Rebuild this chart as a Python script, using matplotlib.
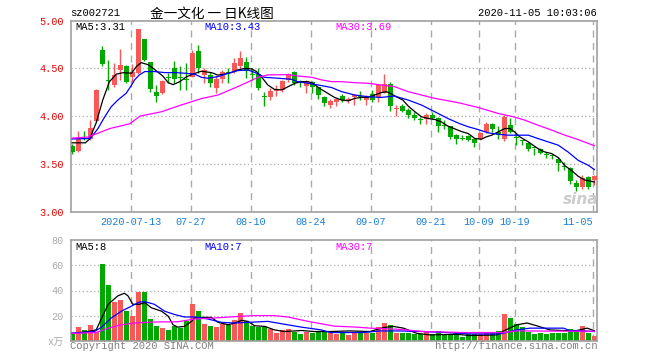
import matplotlib
matplotlib.use('Agg')
import matplotlib.pyplot as plt
import numpy as np

# daily K-line data (price in yuan, volume in 万手)
opens = [3.684, 3.635, 3.775, 3.765, 3.95, 4.69, 4.38, 4.33, 4.485, 4.525, 4.41, 4.45, 4.81, 4.565, 4.255, 4.245, 4.41, 4.50, 4.40, 4.385, 4.415, 4.685,
         4.43, 4.43, 4.29, 4.385, 4.46, 4.475, 4.53, 4.57, 4.435, 4.44, 4.205, 4.195, 4.265, 4.275, 4.38, 4.465, 4.365, 4.315, 4.36, 4.30, 4.195, 4.115,
         4.15, 4.21, 4.16, 4.205, 4.205, 4.17, 4.23, 4.195, 4.245, 4.335, 4.075, 4.105, 4.06, 4.01, 3.96, 3.965, 4.015, 3.985, 3.905, 3.895, 3.80,
         3.765, 3.79, 3.755, 3.755, 3.835, 3.915, 3.835, 3.755, 3.91, 3.78, 3.745, 3.72, 3.67, 3.66, 3.60, 3.59, 3.555, 3.47, 3.455, 3.30, 3.255, 3.36, 3.325]
closes = [3.625, 3.775, 3.76, 3.88, 4.27, 4.545, 4.37, 4.43, 4.535, 4.355, 4.465, 4.915, 4.59, 4.285, 4.21, 4.37, 4.40, 4.39, 4.395, 4.38, 4.665, 4.50,
          4.485, 4.345, 4.39, 4.46, 4.455, 4.555, 4.605, 4.475, 4.43, 4.29, 4.20, 4.265, 4.285, 4.37, 4.44, 4.35, 4.36, 4.36, 4.31, 4.22, 4.135, 4.16,
          4.18, 4.17, 4.18, 4.21, 4.20, 4.21, 4.17, 4.325, 4.335, 4.105, 4.08, 4.055, 4.01, 3.975, 3.955, 4.015, 3.985, 3.895, 3.90, 3.78, 3.765,
          3.76, 3.745, 3.72, 3.825, 3.915, 3.86, 3.80, 3.99, 3.835, 3.775, 3.74, 3.65, 3.665, 3.615, 3.595, 3.585, 3.51, 3.465, 3.315, 3.255, 3.35, 3.255, 3.37]
highs = [3.705, 3.84, 3.84, 3.96, 4.28, 4.73, 4.59, 4.56, 4.70, 4.54, 4.55, 4.915, 4.81, 4.57, 4.325, 4.38, 4.45, 4.58, 4.52, 4.555, 4.69, 4.745,
         4.50, 4.465, 4.43, 4.485, 4.50, 4.61, 4.685, 4.615, 4.50, 4.50, 4.255, 4.29, 4.325, 4.38, 4.455, 4.475, 4.38, 4.375, 4.37, 4.31, 4.21, 4.175,
         4.18, 4.23, 4.20, 4.23, 4.26, 4.22, 4.275, 4.335, 4.44, 4.36, 4.115, 4.125, 4.09, 4.045, 3.99, 4.03, 4.045, 3.995, 3.96, 3.90, 3.81,
         3.80, 3.80, 3.765, 3.835, 3.94, 3.925, 3.895, 4.01, 3.975, 3.82, 3.75, 3.73, 3.67, 3.67, 3.625, 3.605, 3.57, 3.52, 3.465, 3.335, 3.38, 3.37, 3.38]
lows = [3.607, 3.625, 3.75, 3.745, 3.94, 4.52, 4.27, 4.31, 4.38, 4.345, 4.36, 4.44, 4.58, 4.255, 4.15, 4.23, 4.345, 4.345, 4.275, 4.275, 4.41, 4.45,
        4.345, 4.31, 4.245, 4.345, 4.345, 4.45, 4.49, 4.40, 4.38, 4.275, 4.11, 4.17, 4.21, 4.255, 4.36, 4.325, 4.31, 4.245, 4.245, 4.18, 4.105, 4.09,
        4.105, 4.15, 4.14, 4.115, 4.17, 4.115, 4.15, 4.15, 4.24, 4.055, 4.00, 4.045, 3.975, 3.96, 3.915, 3.915, 3.965, 3.835, 3.86, 3.755, 3.71,
        3.745, 3.74, 3.68, 3.745, 3.82, 3.835, 3.765, 3.74, 3.82, 3.695, 3.695, 3.635, 3.59, 3.60, 3.56, 3.555, 3.425, 3.44, 3.29, 3.215, 3.24, 3.24, 3.28]
volumes = [5.1, 10.8, 8.6, 12.2, 7.3, 61.4, 44.6, 30.8, 32.4, 23.5, 19.5, 38.9, 38.9, 17.3, 11.4, 10.5, 8.6, 11.9, 10.0, 15.4, 29.5, 23.5,
           13.2, 11.4, 10.8, 13.5, 12.7, 16.8, 22.2, 15.9, 11.4, 10.8, 10.8, 9.2, 5.9, 8.6, 9.2, 7.3, 5.4, 7.3, 5.9, 7.3, 8.1, 5.9,
           5.1, 6.5, 4.3, 7.3, 7.3, 5.9, 5.9, 10.8, 13.8, 12.2, 6.5, 5.9, 5.9, 5.1, 5.1, 7.3, 5.4, 7.8, 5.4, 5.4, 5.9,
           3.2, 5.1, 5.4, 5.1, 7.3, 6.8, 8.1, 21.4, 17.8, 13.5, 10.8, 7.3, 5.4, 5.9, 5.4, 5.9, 6.5, 5.9, 9.2, 7.8, 11.4, 5.9, 4.1]

# moving average lines (x = trading-day index)
ma5_x = [0, 2.2, 2.9, 4.0, 5.1, 6.2, 7.35, 8.5, 9.9, 10.7, 11.5, 12.6, 13.5, 14.3, 15.1, 16.0, 16.8, 17.9, 19.0, 20.1, 21.5, 23.2, 24.3, 25.4,
         26.5, 27.6, 28.8, 29.9, 30.7, 31.5, 32.6, 33.7, 34.9, 36, 37.1, 38.2, 39.3, 40.1, 41.2, 42.4, 43.7, 44.9, 46, 47.1, 48.2, 49.3,
         50.4, 51.5, 52.4, 53.2, 54, 55.1, 56, 57.1, 58.2, 59.3, 60.4, 61.5, 62.6, 64, 65, 66, 67.1, 68.2, 69, 69.9, 71, 72.1, 72.9,
         73.7, 74.6, 76, 77.6, 78.7, 79.9, 81, 82.1, 83.2, 84.3, 85.4, 86.2, 87]
ma5_y = [3.72, 3.72, 3.76, 3.93, 4.17, 4.36, 4.44, 4.455, 4.45, 4.52, 4.56, 4.54, 4.50, 4.46, 4.42, 4.35, 4.33, 4.36, 4.41, 4.44, 4.47, 4.456, 4.43, 4.44,
         4.456, 4.484, 4.50, 4.495, 4.467, 4.414, 4.326, 4.28, 4.274, 4.309, 4.344, 4.361, 4.361, 4.344, 4.291, 4.246, 4.196, 4.168, 4.161, 4.186, 4.196, 4.196,
         4.221, 4.246, 4.256, 4.232, 4.203, 4.168, 4.105, 4.046, 3.993, 3.975, 3.965, 3.94, 3.895, 3.86, 3.835, 3.817, 3.765, 3.758, 3.782, 3.80, 3.835, 3.87, 3.87,
         3.835, 3.782, 3.73, 3.66, 3.625, 3.607, 3.565, 3.48, 3.43, 3.37, 3.33, 3.32, 3.31]
ma10_x = [0, 3.0, 4.3, 5.4, 6.5, 7.6, 9.0, 9.9, 10.4, 11.2, 12.1, 13.7, 15.4, 17.1, 18.7, 20.4, 21.5, 22.6, 24.3, 26, 27.6, 29.3, 30.7, 32, 34.3,
          36.5, 37.6, 39.3, 41, 43.2, 44.9, 47.1, 49.3, 51.5, 53.7, 56, 58.2, 60.4, 62.6, 64.6, 66, 67.6, 69.3, 71, 72.6, 76, 77.6, 79.3, 81,
          82.6, 84.3, 86, 87]
ma10_y = [3.76, 3.765, 3.87, 3.99, 4.098, 4.168, 4.24, 4.326, 4.38, 4.432, 4.467, 4.467, 4.456, 4.456, 4.45, 4.44, 4.407, 4.397, 4.414, 4.45, 4.477, 4.484, 4.45, 4.407, 4.397,
          4.386, 4.361, 4.344, 4.326, 4.30, 4.256, 4.221, 4.203, 4.196, 4.21, 4.168, 4.116, 4.046, 3.975, 3.92, 3.888, 3.86, 3.825, 3.81, 3.80, 3.80, 3.765, 3.73, 3.695,
          3.625, 3.537, 3.484, 3.44]
ma30_x = [0, 2.6, 6.3, 9.6, 11.3, 14.9, 17.6, 19.9, 21.5, 24.3, 27.6, 31, 32.6, 36, 37.6, 39.9, 41.5, 43.2, 44.9, 47.1, 49.3, 51.5, 53.7, 56,
          58.2, 60.4, 62.6, 64.6, 67.6, 71, 73.5, 75.4, 77.6, 79.9, 82.1, 84.3, 87]
ma30_y = [3.77, 3.78, 3.87, 3.92, 4.00, 4.046, 4.105, 4.151, 4.183, 4.221, 4.309, 4.407, 4.432, 4.435, 4.42, 4.407, 4.38, 4.361, 4.361, 4.35, 4.344, 4.326, 4.309, 4.256,
          4.221, 4.186, 4.161, 4.137, 4.091, 4.028, 3.993, 3.958, 3.905, 3.853, 3.80, 3.754, 3.69]

vma5_x = [0, 2.6, 4, 4.9, 6, 7.6, 8.7, 9.3, 10.1, 11.2, 12.1, 13.2, 14.9, 16, 16.8, 17.6, 18.7, 19.9, 20.4, 21.5, 23.2, 24.3, 26, 27.1, 28.2,
          29.3, 30.4, 32.1, 33.7, 35.4, 38.2, 40.4, 43, 46.3, 49.6, 51.9, 53.5, 55.2, 57.4, 59.6, 64.1, 66.3, 70.7, 71.9, 74.1, 75.8, 77.4,
          79.6, 81.9, 84.1, 85.8, 87]
vma5_y = [5.9, 7.3, 8.6, 18, 29, 35.7, 37.8, 35.7, 29, 29, 30.3, 26.2, 23.5, 19.5, 12.7, 10.8, 11.4, 15.4, 18.1, 18.6, 18.6, 14.6, 12.7, 14.1, 16.2,
          15.4, 11.9, 11.4, 8.6, 7.3, 8.1, 7.3, 7.3, 7.8, 7.3, 10.5, 11.4, 10, 5.9, 4.6, 5.1, 4.1, 4.6, 7.8, 12.7, 14.1, 11.9,
          8.6, 8.1, 8.1, 10, 8.0]
vma10_x = [0, 3.7, 4.9, 6.5, 8.2, 9.9, 11.2, 12.1, 13.7, 15.4, 17.1, 18.7, 20.4, 22.6, 24.9, 27.1, 29.3, 32.6, 34.9, 38.2, 41.5, 43, 48.5,
           51.3, 54.1, 58.5, 62.4, 66.3, 71.3, 74.1, 76.3, 81.9, 83, 85.2, 87]
vma10_y = [5.9, 7.3, 10.8, 18.1, 23.5, 27.6, 30.8, 31.1, 29, 23.5, 20.8, 18.9, 18.9, 17.3, 14.6, 14.1, 14.6, 15.4, 13.5, 10.8, 8.6, 6.5, 6.5,
           7.8, 7.8, 7.3, 6.5, 5.4, 5.4, 8.6, 10, 10, 7.8, 7.8, 7.3]
vma30_x = [0, 4, 6, 8.2, 10.4, 13.7, 17.6, 20.4, 23.7, 28.2, 30.4, 33.7, 35.9, 39.3, 41.5, 43.7, 47.4, 49.6, 54.1, 58.5, 65.2, 71.9, 74.1, 87]
vma30_y = [5.9, 6.5, 10, 12.7, 14.1, 14.9, 15.1, 17.3, 18.1, 19.5, 20, 20, 18.9, 15.4, 13.5, 11.6, 10.8, 10, 9.2, 7.3, 6.5, 6.5, 7.8, 7.5]

date_idx = [10, 20, 30, 40, 50, 60, 68, 74, 87]
date_labels = ['2020-07-13', '07-27', '08-10', '08-24', '09-07', '09-21', '10-09', '10-19', '11-05']

RED = '#fa5858'
GREEN = '#00a800'
FRAME = '#a0a0a0'
GRID = '#aaaaaa'
MONO = 'Liberation Mono'

W, H = 660, 360
fig = plt.figure(figsize=(6.6, 3.6), dpi=100)
fig.patch.set_facecolor('white')

def box(l, t, r, b):
    return [l / W, 1 - b / H, (r - l) / W, (b - t) / H]

ax = fig.add_axes(box(70.7, 20.7, 597.3, 211.5))
axv = fig.add_axes(box(70.7, 240.3, 597.3, 340.7))

o = np.array(opens); c = np.array(closes); h = np.array(highs); l = np.array(lows)
x = np.arange(len(o))
up = c >= o
cols = np.where(up, RED, GREEN)

for a in (ax, axv):
    a.set_xlim(-0.25, 87.5)
    for s in a.spines.values():
        s.set_color(FRAME)
        s.set_linewidth(1.2)
    for d in date_idx:
        a.axvline(d - 0.25, color=GRID, lw=1.0, ls=(0, (5, 4)), zorder=0)
    a.tick_params(length=0)

# price panel
ax.set_ylim(3.0, 5.0)
for yv in (3.5, 4.0, 4.5):
    ax.axhline(yv, color=GRID, lw=0.9, ls=(0, (1, 2)), zorder=0)
ax.vlines(x, l, h, colors=cols, lw=1.0, zorder=2)
body = np.maximum(np.abs(c - o), 0.011)
ax.bar(x, body, bottom=np.minimum(o, c), width=0.8, color=cols, zorder=3, linewidth=0)
ax.plot(ma5_x, ma5_y, color='black', lw=0.9, zorder=4)
ax.plot(ma10_x, ma10_y, color='#0000ff', lw=0.9, zorder=4)
ax.plot(ma30_x, ma30_y, color='#ff00ff', lw=0.9, zorder=4)

ax.set_yticks([3.0, 3.5, 4.0, 4.5, 5.0])
ax.set_yticklabels(['3.00', '3.50', '4.00', '4.50', '5.00'], color='#ee0000',
                   fontfamily=MONO, fontsize=7.3)
ax.tick_params(axis='y', pad=5)
ax.set_xticks([d - 0.25 for d in date_idx])
ax.set_xticklabels(date_labels, color='#1a7fd6', fontfamily=MONO, fontsize=7.3)
ax.tick_params(axis='x', pad=4)
ax.get_xticklabels()[-1].set_ha('right')

# volume panel
axv.set_ylim(0, 80)
for yv in (20, 40, 60):
    axv.axhline(yv, color=GRID, lw=0.9, ls=(0, (1, 2)), zorder=0)
axv.bar(x, volumes, width=0.83, color=cols, linewidth=0, zorder=2)
axv.plot(vma5_x, vma5_y, color='black', lw=0.9, zorder=4)
axv.plot(vma10_x, vma10_y, color='#0000ff', lw=0.9, zorder=4)
axv.plot(vma30_x, vma30_y, color='#ff00ff', lw=0.9, zorder=4)
axv.set_xticks([])
axv.set_yticks([0, 20, 40, 60, 80])
axv.set_yticklabels(['x万', '20', '40', '60', '80'], color='#aaaaaa', fontsize=7.3)
for t in axv.get_yticklabels():
    t.set_fontfamily([MONO, 'Noto Sans CJK SC'])
axv.tick_params(axis='y', pad=5)

def ftext(px, py, s, **kw):
    fig.text(px / W, 1 - py / H, s, va='center', **kw)

ftext(70, 13.5, 'sz002721', fontfamily=MONO, fontsize=7.6, color='black')
ftext(150, 13.5, '金一文化 一 日K线图', fontfamily=['Noto Sans CJK SC', 'DejaVu Sans'],
      fontsize=9.8, color='black')
ftext(597, 13.5, '2020-11-05 10:03:06', fontfamily=MONO, fontsize=7.6, color='black', ha='right')

ftext(75, 26.5, 'MA5:3.31', fontfamily=MONO, fontsize=7.6, color='black')
ftext(204, 26.5, 'MA10:3.43', fontfamily=MONO, fontsize=7.6, color='#0000ff')
ftext(335, 26.5, 'MA30:3.69', fontfamily=MONO, fontsize=7.6, color='#ff00ff')
ftext(75, 247, 'MA5:8', fontfamily=MONO, fontsize=7.6, color='black')
ftext(204, 247, 'MA10:7', fontfamily=MONO, fontsize=7.6, color='#0000ff')
ftext(335, 247, 'MA30:7', fontfamily=MONO, fontsize=7.6, color='#ff00ff')

ftext(70, 346, 'Copyright 2020 SINA.COM', fontfamily=MONO, fontsize=7.6, color='#808080')
ftext(597, 346, 'http://finance.sina.com.cn', fontfamily=MONO, fontsize=7.6, color='#808080', ha='right')

# sina watermark
ftext(581, 199, 'sina', fontfamily='DejaVu Sans', fontsize=11, fontstyle='italic',
      fontweight='bold', color='#cccccc', ha='center', zorder=1)

fig.savefig('out.png', dpi=100)
